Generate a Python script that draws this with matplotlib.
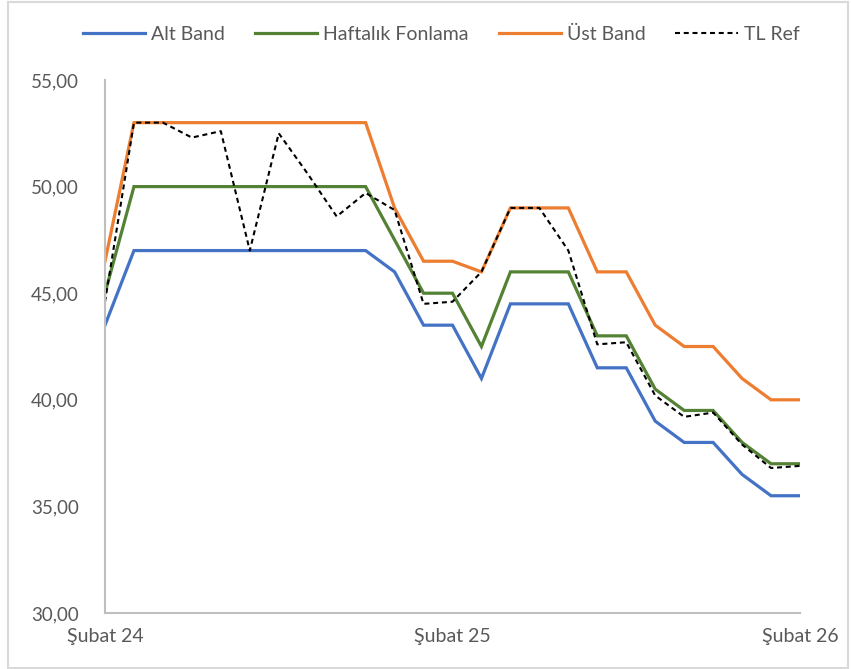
import matplotlib
matplotlib.use("Agg")
import matplotlib.pyplot as plt
from matplotlib.patches import Rectangle

plt.rcParams['font.family'] = ['Lato', 'DejaVu Sans']

# Monthly observations, Şubat 2024 .. Şubat 2026
months = list(range(25))
tick_idx = [0, 12, 24]
tick_labels = ["Şubat 24", "Şubat 25", "Şubat 26"]

alt_band = [43.5, 47, 47, 47, 47, 47, 47, 47, 47, 47, 46, 43.5, 43.5,
            41, 44.5, 44.5, 44.5, 41.5, 41.5, 39, 38, 38, 36.5, 35.5, 35.5]
haftalik = [45, 50, 50, 50, 50, 50, 50, 50, 50, 50, 47.5, 45, 45,
            42.5, 46, 46, 46, 43, 43, 40.5, 39.5, 39.5, 38, 37, 37]
ust_band = [46.5, 53, 53, 53, 53, 53, 53, 53, 53, 53, 49, 46.5, 46.5,
            46, 49, 49, 49, 46, 46, 43.5, 42.5, 42.5, 41, 40, 40]
tl_ref = [44.6, 53.0, 53.0, 52.3, 52.6, 47.0, 52.5, 50.6, 48.6, 49.7, 48.9, 44.5, 44.6,
          46.0, 49.0, 49.0, 47.0, 42.6, 42.7, 40.2, 39.2, 39.4, 37.9, 36.8, 36.9]

y_ticks = [30, 35, 40, 45, 50, 55]

W, H = 851, 669
fig = plt.figure(figsize=(W / 100, H / 100), dpi=100)
ax = fig.add_axes([105 / W, 1 - 613 / H, (800 - 105) / W, (613 - 80) / H])

lw = 2.3
ax.plot(months, alt_band, color="#4472C4", lw=lw, label="Alt Band", solid_joinstyle="miter")
ax.plot(months, haftalik, color="#548235", lw=lw, label="Haftalık Fonlama", solid_joinstyle="miter")
ax.plot(months, ust_band, color="#ED7D31", lw=lw, label="Üst Band", solid_joinstyle="miter")
ax.plot(months, tl_ref, color="black", lw=1.5, dashes=(2.4, 1.8), label="TL Ref")

ax.set_xlim(months[0], months[-1])
ax.set_ylim(y_ticks[0], y_ticks[-1])
ax.set_yticks(y_ticks)
ax.set_yticklabels([f"{v:.2f}".replace(".", ",") for v in y_ticks])
ax.set_xticks(tick_idx)
ax.set_xticklabels(tick_labels)

for side in ("top", "right"):
    ax.spines[side].set_visible(False)
for side in ("left", "bottom"):
    ax.spines[side].set_color("#bfbfbf")
    ax.spines[side].set_linewidth(1.5)

ax.tick_params(axis="y", length=0, pad=19, labelsize=13.5, labelcolor="#595959")
ax.tick_params(axis="x", length=0, pad=11, labelsize=14, labelcolor="#595959")

leg = ax.legend(loc="center", bbox_to_anchor=(441 / W, 1 - 34 / H),
                bbox_transform=fig.transFigure, ncol=4, frameon=False,
                fontsize=14, handlelength=3.2, handletextpad=0.3,
                columnspacing=1.55, borderaxespad=0, borderpad=0)
for t in leg.get_texts():
    t.set_color("#595959")

# chart-area border
fig.patches.append(Rectangle((8 / W, 1 / H), (848 - 8) / W, (667 - 1) / H,
                             transform=fig.transFigure, fill=False,
                             edgecolor="#d9d9d9", lw=1.5))

fig.savefig("out.png", dpi=100)
